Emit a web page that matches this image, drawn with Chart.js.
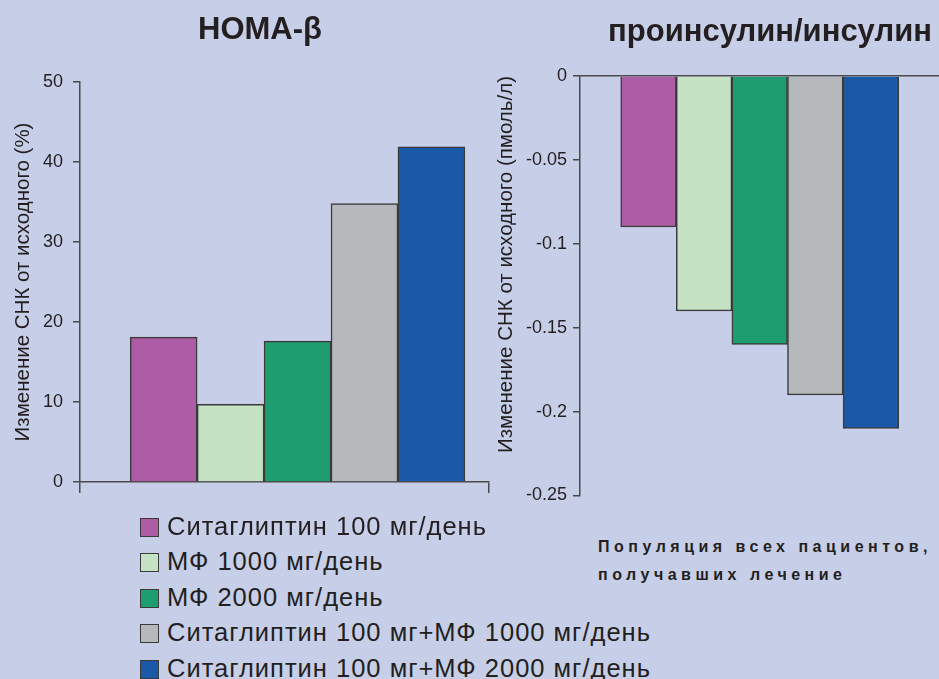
<!DOCTYPE html>
<html lang="ru">
<head>
<meta charset="utf-8">
<title>HOMA-β и проинсулин/инсулин</title>
<script src="https://cdn.jsdelivr.net/npm/chart.js@4.4.0/dist/chart.umd.min.js"></script>
<style>
  html, body { margin: 0; padding: 0; background: #c7cee8; }
  #wrap { position: relative; width: 939px; height: 679px; overflow: hidden; background: #c7cee8; }
  #homaBox { position: absolute; left: 0; top: 0; }
  #ratioBox { position: absolute; left: 470px; top: 0; }
  .panel-title { position: absolute; margin: 0; font-family: 'Liberation Sans', Arial, sans-serif; font-weight: bold; font-size: 31px; line-height: 36px; color: #231f20; text-align: center; white-space: nowrap; }
  #homaTitle { left: 0; width: 520px; top: 11px; }
  #ratioTitle { left: 600px; width: 340px; top: 13px; }
  #legend { position: absolute; left: 140px; top: 509px; font-family: 'Liberation Sans', Arial, sans-serif; font-size: 25.5px; letter-spacing: 1px; color: #231f20; }
  #legend .row { position: relative; height: 35.4px; line-height: 35.4px; white-space: nowrap; }
  #legend .swatch { position: absolute; left: 0; top: 9px; width: 17px; height: 17px; border: 1px solid #3a3a3a; }
  #legend .label { position: absolute; left: 27px; top: 0; }
  #note { position: absolute; left: 598px; top: 533px; font-family: 'Liberation Sans', Arial, sans-serif; font-weight: bold; font-size: 16px; letter-spacing: 4.5px; line-height: 28px; color: #231f20; white-space: nowrap; }
</style>
</head>
<body>
<div id="wrap">
  <canvas id="homaBox" width="520" height="510"></canvas>
  <canvas id="ratioBox" width="600" height="520"></canvas>
  <h2 class="panel-title" id="homaTitle">HOMA-β</h2>
  <h2 class="panel-title" id="ratioTitle">проинсулин/инсулин</h2>
  <div id="legend"></div>
  <div id="note">Популяция всех пациентов,<br>получавших лечение</div>
</div>
<script>
// Treatment groups and their colours
const seriesNames = [
  'Ситаглиптин 100 мг/день',
  'МФ 1000 мг/день',
  'МФ 2000 мг/день',
  'Ситаглиптин 100 мг+МФ 1000 мг/день',
  'Ситаглиптин 100 мг+МФ 2000 мг/день'
];
const seriesColors = ['#ad5ca5', '#c5e2c4', '#1e9d71', '#b6b9bc', '#1959a7'];

// Change from baseline, HOMA-β (%)
const homaBeta = [18.1, 9.7, 17.6, 34.8, 41.9];
const homaTicks = [0, 10, 20, 30, 40, 50];

// Change from baseline, proinsulin/insulin ratio (pmol/l)
const ratioChange = [-0.09, -0.14, -0.16, -0.19, -0.21];
const ratioTicks = [0, -0.05, -0.1, -0.15, -0.2, -0.25];
const ratioTickLabels = ['0', '-0.05', '-0.1', '-0.15', '-0.2', '-0.25'];

const textColor = '#231f20';
const axisColor = '#4a4a4a';
const barEdge = '#3a3a3a';

Chart.defaults.font.family = "'Liberation Sans', Arial, sans-serif";
Chart.defaults.color = textColor;

function barDataset(values) {
  return {
    data: values.map((v, i) => ({ x: i, y: v })),
    backgroundColor: seriesColors,
    borderColor: barEdge,
    borderWidth: 1.5,
    barPercentage: 1,
    categoryPercentage: 1
  };
}

const commonPlugins = {
  legend: { display: false },
  tooltip: { enabled: false },
  title: { display: false }
};

// Left panel: HOMA-β
new Chart(document.getElementById('homaBox'), {
  type: 'bar',
  data: { datasets: [barDataset(homaBeta)] },
  options: {
    responsive: false,
    animation: false,
    events: [],
    layout: { padding: { left: 4.6, right: 31, top: 82, bottom: 17 } },
    plugins: commonPlugins,
    scales: {
      x: {
        type: 'linear',
        offset: false,
        min: -1.25,
        max: 4.86,
        afterBuildTicks: s => { s.ticks = [{ value: s.min }, { value: s.max }]; },
        ticks: { display: false },
        grid: { offset: false, drawOnChartArea: false, tickLength: 11, color: axisColor, lineWidth: 1.5 },
        border: { color: axisColor, width: 1.5 }
      },
      y: {
        min: 0,
        max: 50,
        afterBuildTicks: s => { s.ticks = homaTicks.map(v => ({ value: v })); },
        afterFit: s => { s.width = 75.4; },
        ticks: { font: { size: 18 }, color: textColor, padding: 10 },
        grid: { drawOnChartArea: false, tickLength: 7, color: axisColor, lineWidth: 1.5 },
        border: { color: axisColor, width: 1.5 },
        title: {
          display: true,
          text: 'Изменение СНК от исходного (%)',
          color: textColor,
          font: { size: 20.5 },
          padding: { top: 6.1, bottom: 2 }
        }
      }
    }
  }
});

// Right panel: proinsulin/insulin
new Chart(document.getElementById('ratioBox'), {
  type: 'bar',
  data: { datasets: [barDataset(ratioChange)] },
  options: {
    responsive: false,
    animation: false,
    events: [],
    layout: { padding: { left: 17.6, right: 131, top: 76, bottom: 24.5 } },
    plugins: commonPlugins,
    scales: {
      x: {
        type: 'linear',
        position: 'top',
        offset: false,
        min: -1.232,
        max: 5.225,
        afterBuildTicks: s => { s.ticks = []; },
        afterFit: s => { s.height = 0; },
        ticks: { display: false },
        grid: { display: false, offset: false },
        border: { color: axisColor, width: 1.5 }
      },
      y: {
        min: -0.25,
        max: 0,
        afterBuildTicks: s => { s.ticks = ratioTicks.map(v => ({ value: v })); },
        afterFit: s => { s.width = 92.4; },
        ticks: {
          font: { size: 18 },
          color: textColor,
          padding: 6,
          callback: (v, i) => ratioTickLabels[i]
        },
        grid: { drawOnChartArea: false, tickLength: 7, color: axisColor, lineWidth: 1.5 },
        border: { color: axisColor, width: 1.5 },
        title: {
          display: true,
          text: 'Изменение СНК от исходного (пмоль/л)',
          align: 'end',
          color: textColor,
          font: { size: 20.5 },
          padding: { top: 6.1, bottom: 2 }
        }
      }
    }
  }
});

// Legend built from the same series lists
const legend = document.getElementById('legend');
seriesNames.forEach((name, i) => {
  const row = document.createElement('div');
  row.className = 'row';
  const sw = document.createElement('span');
  sw.className = 'swatch';
  sw.style.background = seriesColors[i];
  const label = document.createElement('span');
  label.className = 'label';
  label.textContent = name;
  row.appendChild(sw);
  row.appendChild(label);
  legend.appendChild(row);
});
</script>
</body>
</html>
